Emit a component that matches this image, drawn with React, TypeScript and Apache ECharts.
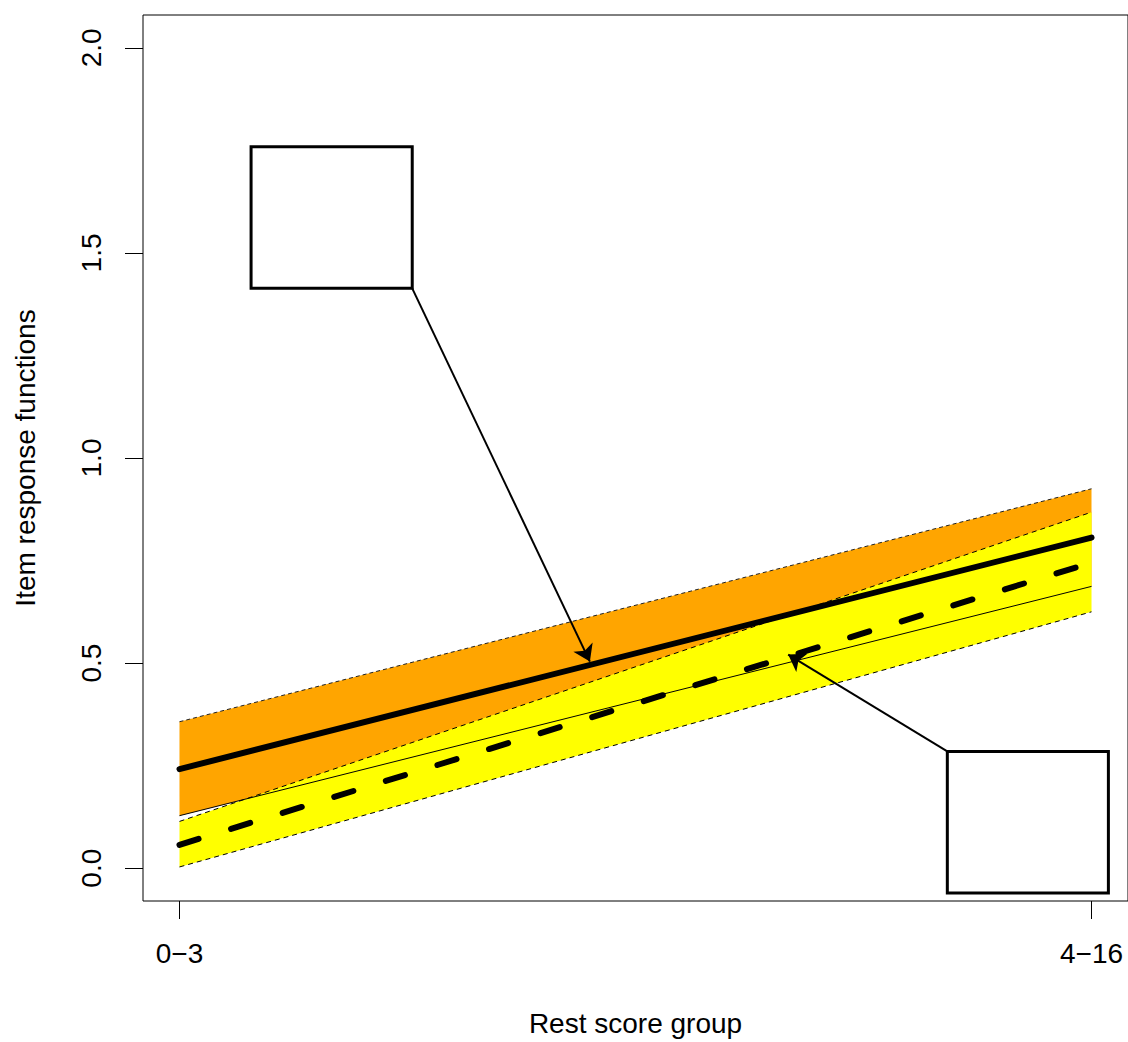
import React, { useEffect, useRef } from "react";
import * as echarts from "echarts";

// ---- data ----
const groupPositions = [1, 2];
const groupLabels = ["0\u22123", "4\u221216"];
const yTicks = [0, 0.5, 1, 1.5, 2];
const irfObserved = [0.2415, 0.806];
const irfExpected = [0.057, 0.745];
const orangeUpper = [0.357, 0.925];
const orangeLower = [0.128, 0.687];
const yellowUpper = [0.114, 0.868];
const yellowLower = [0.003, 0.625];
const boxA = [[1.0785, 1.759], [1.2552, 1.4136]];
const boxB = [[1.8419, 0.2847], [2.0185, -0.0608]];
const arrowA = [[1.2552, 1.4136], [1.45, 0.5036]];
const arrowB = [[1.8419, 0.2847], [1.6674, 0.5207]];

const FONT = "'Liberation Sans', Arial, Helvetica, sans-serif";
const FS = 28;

const pts = (ys: number[]) => groupPositions.map((x, i) => [x, ys[i]]);

function bandSeries(upper: number[], lower: number[], color: string) {
  return {
    type: "custom",
    silent: true,
    data: groupPositions.map((x, i) => [x, upper[i], lower[i]]),
    encode: { x: 0, y: [1, 2] },
    renderItem: (params: any, api: any) => {
      if (params.dataIndex !== 0) return null;
      const top = groupPositions.map((x, i) => api.coord([x, upper[i]]));
      const bot = groupPositions.map((x, i) => api.coord([x, lower[i]])).reverse();
      return {
        type: "polygon",
        shape: { points: [...top, ...bot] },
        style: { fill: color, stroke: "none" },
      };
    },
  };
}

export default function App() {
  const ref = useRef<HTMLDivElement>(null);
  useEffect(() => {
    document.body.style.margin = "0";
    document.body.style.overflow = "hidden";
    document.documentElement.style.overflow = "hidden";
    const chart = echarts.init(ref.current!, null, { renderer: "svg" });
    const noEmph = { disabled: true };
    const lineS = (ys: number[], lineStyle: any, extra: any = {}) => ({
      type: "line",
      data: pts(ys),
      symbol: "none",
      lineStyle,
      emphasis: noEmph,
      silent: true,
      ...extra,
    });
    chart.setOption({
      animation: false,
      backgroundColor: "#fff",
      grid: {
        left: 143,
        top: 15,
        width: 991,
        height: 890,
        show: true,
        borderColor: "#000",
        borderWidth: 1,
        backgroundColor: "transparent",
      },
      xAxis: {
        type: "value",
        min: 0.96,
        max: 2.04,
        axisLine: { show: false, onZero: false },
        splitLine: { show: false },
        axisTick: {
          show: true,
          customValues: groupPositions,
          length: 18,
          lineStyle: { color: "#000", width: 1 },
        },
        axisLabel: {
          customValues: groupPositions,
          formatter: (v: number) => groupLabels[groupPositions.indexOf(v)] ?? "",
          color: "#000",
          fontFamily: FONT,
          fontSize: FS,
          margin: 38,
        },
        name: "Rest score group",
        nameLocation: "middle",
        nameGap: 108,
        nameTextStyle: { color: "#000", fontFamily: FONT, fontSize: FS },
      },
      yAxis: {
        type: "value",
        min: -0.08,
        max: 2.08,
        axisLine: { show: false, onZero: false },
        splitLine: { show: false },
        axisTick: {
          show: true,
          customValues: yTicks,
          length: 18,
          lineStyle: { color: "#000", width: 1 },
        },
        axisLabel: {
          customValues: yTicks,
          formatter: (v: number) => v.toFixed(1),
          rotate: 90,
          color: "#000",
          fontFamily: FONT,
          fontSize: FS,
          margin: 38,
        },
        name: "Item response functions",
        nameLocation: "middle",
        nameGap: 104,
        nameTextStyle: { color: "#000", fontFamily: FONT, fontSize: FS },
      },
      series: [
        bandSeries(orangeUpper, orangeLower, "#FFA500"),
        bandSeries(yellowUpper, yellowLower, "#FFFF00"),
        lineS(orangeUpper, { color: "#222", width: 1, type: [4, 3] }),
        lineS(orangeLower, { color: "#000", width: 1 }),
        lineS(yellowUpper, { color: "#000", width: 1, type: [5, 4] }),
        lineS(yellowLower, { color: "#000", width: 1, type: [5, 4] }),
        lineS(irfExpected, { color: "#000", width: 6, type: [20, 34], cap: "round" }),
        lineS(
          irfObserved,
          { color: "#000", width: 6, cap: "round" },
          {
            markArea: {
              silent: true,
              itemStyle: { color: "#fff", borderColor: "#000", borderWidth: 3 },
              label: { show: false },
              emphasis: noEmph,
              data: [
                [{ coord: boxA[0] }, { coord: boxA[1] }],
                [{ coord: boxB[0] }, { coord: boxB[1] }],
              ],
            },
            markLine: {
              silent: true,
              symbol: ["none", "arrow"],
              symbolSize: 16,
              label: { show: false },
              emphasis: noEmph,
              lineStyle: { color: "#000", width: 2, type: "solid" },
              data: [
                [{ coord: arrowA[0] }, { coord: arrowA[1] }],
                [{ coord: arrowB[0] }, { coord: arrowB[1] }],
              ],
            },
          }
        ),
      ],
    });
    return () => chart.dispose();
  }, []);
  return (
    <div
      ref={ref}
      style={{ position: "fixed", left: 0, top: 0, width: 1128, height: 1042, overflow: "hidden" }}
    />
  );
}
